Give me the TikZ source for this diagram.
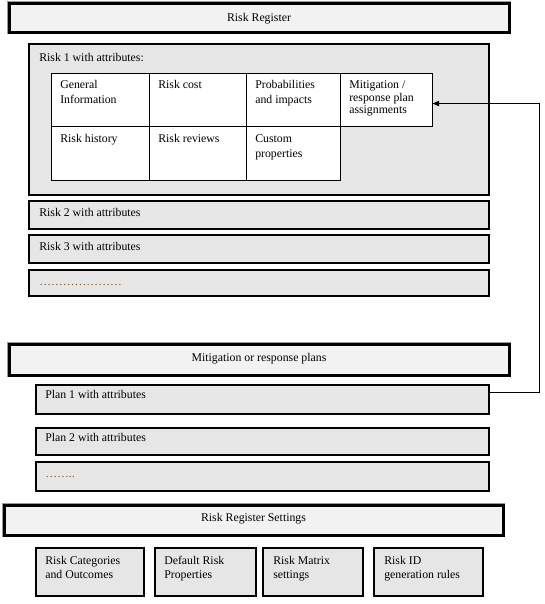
\documentclass[tikz,border=0pt]{standalone}
\usepackage{fontspec}
\setmainfont{Liberation Serif}
\usetikzlibrary{fit,arrows.meta}
\definecolor{hdrfill}{RGB}{242,242,242}
\definecolor{boxfill}{RGB}{230,230,230}
\definecolor{dotcol}{RGB}{140,85,30}
\newcommand\mlines[1]{\begin{tabular}[t]{@{}l@{}}#1\end{tabular}}
\begin{document}
\begin{tikzpicture}[x=0.75pt,y=-0.75pt,
  every node/.style={font=\fontsize{8.85}{11.25}\selectfont},
  hdr/.style={draw=black, line width=2.25pt, fill=hdrfill, inner sep=0pt,
    preaction={draw=black!40, line width=3.6pt}},
  rbox/.style={draw=black, line width=0.9pt, fill=boxfill, inner sep=0pt},
  cell/.style={draw=black, line width=0.75pt, fill=white, inner sep=0pt},
  txt/.style={inner sep=0pt, anchor=base west},
  hdrtxt/.style={inner sep=0pt, anchor=base},
  dots/.style={inner sep=0pt, anchor=base west, text=dotcol},
  conn/.style={draw=black, line width=0.75pt, -{Triangle[length=5pt,width=4pt]}}]
\useasboundingbox (0,0) rectangle (545,604);

% ---------- Risk Register ----------
\node[hdr, fit={(9,3)(509,32)}] (hdr1) {};
\node[hdrtxt] (hdr1-t) at (259,21) {Risk Register};

\node[rbox, fit={(29,44)(489,195)}] (risk1) {};
\node[txt] (risk1-t) at (39,61) {Risk 1 with attributes:};

\node[cell, fit={(51,73)(149,126)}] (gen) {};
\node[cell, fit={(149,73)(246,126)}] (cost) {};
\node[cell, fit={(246,73)(340,126)}] (prob) {};
\node[cell, fit={(340,73)(432,126)}] (mit) {};
\node[cell, fit={(51,126)(149,180)}] (hist) {};
\node[cell, fit={(149,126)(246,180)}] (rev) {};
\node[cell, fit={(246,126)(340,180)}] (cust) {};

\node[txt] (gen-t) at (60,88.5) {\mlines{General\\Information}};
\node[txt] (cost-t) at (158,88.5) {Risk cost};
\node[txt] (prob-t) at (255,88.5) {\mlines{Probabilities\\and impacts}};
\node[txt] (mit-t) at (349,88.5) {\fontsize{8.85}{9.5}\selectfont\mlines{Mitigation /\\response plan\\assignments}};
\node[txt] (hist-t) at (60,142.5) {Risk history};
\node[txt] (rev-t) at (158,142.5) {Risk reviews};
\node[txt] (cust-t) at (255,142.5) {\fontsize{8.85}{10.9}\selectfont\mlines{Custom\\properties}};

\node[rbox, fit={(29,201)(489,229)}] (risk2) {};
\node[txt] (risk2-t) at (39,216.5) {Risk 2 with attributes};
\node[rbox, fit={(29,235)(489,263)}] (risk3) {};
\node[txt] (risk3-t) at (39,250.5) {Risk 3 with attributes};
\node[rbox, fit={(29,270)(489,296)}] (riskn) {};
\node[dots] (riskn-t) at (39,285) {…………………};

% ---------- Mitigation or response plans ----------
\node[hdr, fit={(9,344)(509,375)}] (hdr2) {};
\node[hdrtxt] (hdr2-t) at (259,361.5) {Mitigation or response plans};

\node[rbox, fit={(36,385)(489,414)}] (plan1) {};
\node[txt] (plan1-t) at (45,398.5) {Plan 1 with attributes};
\node[rbox, fit={(36,428)(489,455)}] (plan2) {};
\node[txt] (plan2-t) at (45,441) {Plan 2 with attributes};
\node[rbox, fit={(36,462)(489,491)}] (plann) {};
\node[dots] (plann-t) at (45,477) {……..};

% ---------- Risk Register Settings ----------
\node[hdr, fit={(4,505)(503,535)}] (hdr3) {};
\node[hdrtxt] (hdr3-t) at (253.5,521.5) {Risk Register Settings};

\node[rbox, fit={(36,548)(144,596)}] (set1) {};
\node[txt] (set1-t) at (45,564) {\fontsize{8.85}{10.9}\selectfont\mlines{Risk Categories\\and Outcomes}};
\node[rbox, fit={(155,548)(256,596)}] (set2) {};
\node[txt] (set2-t) at (164,564) {\fontsize{8.85}{10.9}\selectfont\mlines{Default Risk\\Properties}};
\node[rbox, fit={(263,548)(363,596)}] (set3) {};
\node[txt] (set3-t) at (273,564) {\fontsize{8.85}{10.9}\selectfont\mlines{Risk Matrix\\settings}};
\node[rbox, fit={(374,548)(483,596)}] (set4) {};
\node[txt] (set4-t) at (384,564) {\fontsize{8.85}{10.9}\selectfont\mlines{Risk ID\\generation rules}};

% ---------- connector ----------
\coordinate (cA) at (539,392);
\coordinate (cB) at (539,103.5);
\draw[conn] (plan1.east |- cA) -- (cA) -- (cB) -- (mit.east |- cB);
\end{tikzpicture}
\end{document}
